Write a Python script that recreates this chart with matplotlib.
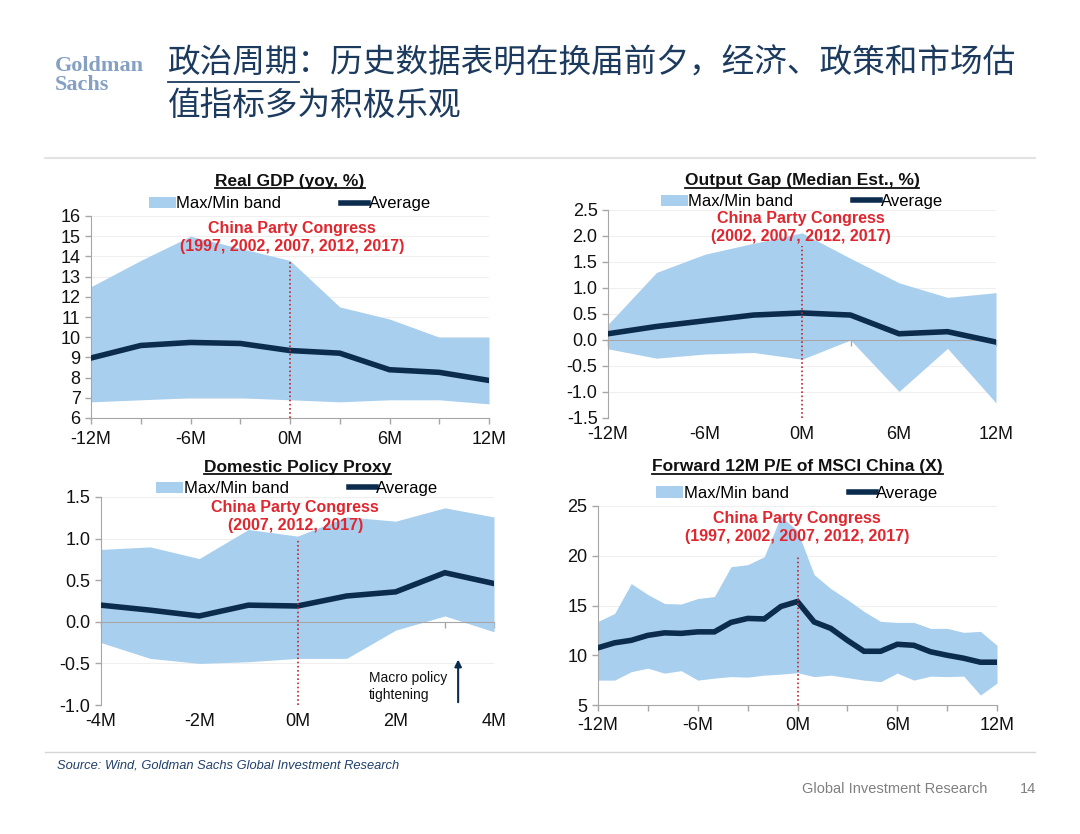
import numpy as np
import matplotlib as mpl
mpl.use('Agg')
import matplotlib.pyplot as plt
from matplotlib.patches import Patch
from matplotlib.lines import Line2D

plt.rcParams['font.family'] = ['Liberation Sans', 'DejaVu Sans']

# ---- values ----
gdp_months = [-12, -9, -6, -3, 0, 3, 6, 9, 12]
gdp_max = [12.5, 13.8, 15.0, 14.4, 13.8, 11.5, 10.9, 10.0, 10.0]
gdp_min = [6.8, 6.9, 7.0, 7.0, 6.9, 6.8, 6.9, 6.9, 6.7]
gdp_avg = [8.97, 9.59, 9.74, 9.69, 9.34, 9.21, 8.39, 8.26, 7.86]

gap_months = [-12, -9, -6, -3, 0, 3, 6, 9, 12]
gap_max = [0.30, 1.30, 1.65, 1.86, 2.06, 1.57, 1.10, 0.82, 0.91]
gap_min = [-0.17, -0.35, -0.27, -0.24, -0.37, 0.0, -0.99, -0.16, -1.21]
gap_avg = [0.12, 0.26, 0.37, 0.48, 0.52, 0.48, 0.12, 0.16, -0.04]

policy_months = [-4, -3, -2, -1, 0, 1, 2, 3, 4]
policy_max = [0.87, 0.90, 0.76, 1.11, 1.03, 1.26, 1.21, 1.37, 1.26]
policy_min = [-0.25, -0.44, -0.50, -0.48, -0.44, -0.44, -0.10, 0.07, -0.12]
policy_avg = [0.20, 0.14, 0.07, 0.20, 0.19, 0.31, 0.36, 0.59, 0.46]

pe_months = list(range(-12, 13))
pe_max = [13.4, 14.2, 17.2, 16.1, 15.2, 15.15, 15.7, 15.9, 18.9, 19.1, 19.9, 24.0,
          22.5, 18.1, 16.7, 15.6, 14.4, 13.4, 13.3, 13.3, 12.7, 12.7, 12.3, 12.4, 11.0]
pe_min = [7.5, 7.5, 8.35, 8.7, 8.2, 8.45, 7.5, 7.7, 7.85, 7.8, 8.0, 8.1,
          8.25, 7.85, 8.0, 7.75, 7.5, 7.35, 8.2, 7.5, 7.9, 7.85, 7.9, 6.0, 7.2]
pe_avg = [10.75, 11.25, 11.5, 12.0, 12.25, 12.2, 12.35, 12.35, 13.3, 13.7, 13.65, 14.9,
          15.4, 13.35, 12.7, 11.5, 10.4, 10.4, 11.1, 11.0, 10.35, 10.0, 9.7, 9.3, 9.3]

titles = ['Real GDP (yoy, %)', 'Output Gap (Median Est., %)',
          'Domestic Policy Proxy', 'Forward 12M P/E of MSCI China (X)']
congress_years = ['(1997, 2002, 2007, 2012, 2017)', '(2002, 2007, 2012, 2017)',
                  '(2007, 2012, 2017)', '(1997, 2002, 2007, 2012, 2017)']
congress_top = [13.8, 1.8, 1.0, 20.0]

head_line1 = '政治周期：历史数据表明在换届前夕，经济、政策和市场估'
head_line2 = '值指标多为积极乐观'
head_key_len = 4  # '政治周期' is underlined

band_c = '#a9cfee'
navy = '#0c2c4e'
red = '#e0262e'
axis_c = '#a6a6a6'

fig = plt.figure(figsize=(10.8, 8.34), dpi=100)

W, H = 1080.0, 834.0
def box(x0, y0, x1, y1):
    return [x0 / W, 1 - y1 / H, (x1 - x0) / W, (y1 - y0) / H]

panels = [
    dict(rect=box(91, 216, 489, 418), x=gdp_months, lo=gdp_min, hi=gdp_max, avg=gdp_avg,
         xlim=(-12, 12), ylim=(6, 16), yticks=np.arange(6, 17, 1), yfmt='{:.0f}',
         xticks=range(-12, 13, 3), lab_every=6, zero=False,
         title_y=1.173, leg_y=1.06, note=(0.505, 0.896)),
    dict(rect=box(608, 210, 996, 418), x=gap_months, lo=gap_min, hi=gap_max, avg=gap_avg,
         xlim=(-12, 12), ylim=(-1.5, 2.5), yticks=np.arange(-1.5, 2.51, 0.5), yfmt='{:.1f}',
         xticks=range(-12, 13, 3), lab_every=6, zero=True,
         title_y=1.14, leg_y=1.04, note=(0.497, 0.918)),
    dict(rect=box(101, 497, 494, 705), x=policy_months, lo=policy_min, hi=policy_max, avg=policy_avg,
         xlim=(-4, 4), ylim=(-1.0, 1.5), yticks=np.arange(-1.0, 1.51, 0.5), yfmt='{:.1f}',
         xticks=range(-4, 5, 1), lab_every=2, zero=True,
         title_y=1.144, leg_y=1.04, note=(0.494, 0.904)),
    dict(rect=box(598, 506, 997, 705), x=pe_months, lo=pe_min, hi=pe_max, avg=pe_avg,
         xlim=(-12, 12), ylim=(5, 25), yticks=np.arange(5, 26, 5), yfmt='{:.0f}',
         xticks=range(-12, 13, 3), lab_every=6, zero=False,
         title_y=1.196, leg_y=1.065, note=(0.499, 0.892)),
]

title_texts = []
axes = []
for i, p in enumerate(panels):
    ax = fig.add_axes(p['rect'])
    axes.append(ax)
    ax.fill_between(p['x'], p['lo'], p['hi'], color=band_c, lw=0, zorder=2)
    ax.plot(p['x'], p['avg'], color=navy, lw=4, solid_joinstyle='miter', zorder=4)
    ax.plot([0, 0], [p['ylim'][0], congress_top[i]], color='#c0282e', lw=1.2,
            ls=(0, (1, 1.5)), zorder=5)
    ax.set_xlim(*p['xlim'])
    ax.set_ylim(*p['ylim'])
    ax.set_yticks(p['yticks'])
    ax.set_yticklabels([p['yfmt'].format(v) for v in p['yticks']])
    ax.grid(axis='y', color='#efefef', lw=0.8, zorder=0)
    ax.set_axisbelow(True)
    for s in ['top', 'right']:
        ax.spines[s].set_visible(False)
    ax.spines['left'].set_color(axis_c)
    ax.spines['bottom'].set_color(axis_c)
    ax.tick_params(axis='y', colors=axis_c, labelcolor='#111111', labelsize=13,
                   length=4, width=1)
    xt = list(p['xticks'])
    labels = ['{}M'.format(v) if v % p['lab_every'] == 0 else '' for v in xt]
    if p['zero']:
        ax.spines['bottom'].set_position(('data', 0))
        ax.set_xticks(xt)
        ax.tick_params(axis='x', colors=axis_c, length=4, width=1, labelbottom=False)
        sec = ax.secondary_xaxis('bottom')
        sec.spines['bottom'].set_visible(False)
        sec.set_xticks(xt)
        sec.set_xticklabels(labels)
        sec.tick_params(axis='x', length=0, labelsize=13, labelcolor='#111111', pad=6)
    else:
        ax.set_xticks(xt)
        ax.set_xticklabels(labels)
        ax.tick_params(axis='x', colors=axis_c, labelcolor='#111111', labelsize=13,
                       length=4, width=1, pad=5)

    t = ax.text(0.5, p['title_y'], titles[i], transform=ax.transAxes, ha='center',
                va='center', fontsize=12.5, fontweight='bold', color='#111111')
    title_texts.append(t)

    handles = [Patch(facecolor=band_c, edgecolor='none'),
               Line2D([], [], color=navy, lw=4)]
    ax.legend(handles, ['Max/Min band', 'Average'], loc='center',
              bbox_to_anchor=(0.5, p['leg_y']), ncol=2, frameon=False, fontsize=12,
              handlelength=1.6, handletextpad=0.05, columnspacing=3.6,
              borderaxespad=0, borderpad=0)

    ax.text(p['note'][0], p['note'][1], 'China Party Congress\n' + congress_years[i],
            transform=ax.transAxes, ha='center', va='center', fontsize=11.5,
            fontweight='bold', color=red, linespacing=1.25, zorder=6)

# policy tightening arrow on the domestic policy panel
ax3 = axes[2]
ax3.annotate('', xy=(3.27, -0.42), xytext=(3.27, -1.0),
             arrowprops=dict(arrowstyle='-|>', color=navy, lw=1.5, mutation_scale=10),
             annotation_clip=False)
ax3.text(1.45, -0.78, 'Macro policy\ntightening', fontsize=10, color='#111111',
         va='center', ha='left', linespacing=1.3)

# header
fig.text(55 / W, 1 - 66 / H, 'Goldman', family='Liberation Serif', fontweight='bold',
         fontsize=16, color='#86a0c4', va='center', ha='left')
fig.text(55 / W, 1 - 85 / H, 'Sachs', family='Liberation Serif', fontweight='bold',
         fontsize=16, color='#86a0c4', va='center', ha='left')

cjk = ['Noto Sans CJK SC', 'DejaVu Sans']
head1 = fig.text(168 / W, 1 - 64 / H, head_line1, family=cjk, fontsize=23.5,
                 fontweight='light', color='#1c3a5e', va='center', ha='left')
fig.text(168 / W, 1 - 106 / H, head_line2, family=cjk, fontsize=23.5,
         fontweight='light', color='#1c3a5e', va='center', ha='left')

fig.add_artist(Line2D([45 / W, 1035 / W], [1 - 158 / H, 1 - 158 / H], color='#e3e3e3',
                      lw=1.5, transform=fig.transFigure))
fig.add_artist(Line2D([45 / W, 1035 / W], [1 - 752 / H, 1 - 752 / H], color='#d6d6d6',
                      lw=1.0, transform=fig.transFigure))

fig.text(57 / W, 1 - 765 / H, 'Source: Wind, Goldman Sachs Global Investment Research',
         fontsize=9.3, style='italic', color='#1f3f6a', va='center', ha='left')
fig.text(987 / W, 1 - 789 / H, 'Global Investment Research', fontsize=10.5,
         color='#808080', va='center', ha='right')
fig.text(1036 / W, 1 - 789 / H, '14', fontsize=10.5, color='#808080', va='center', ha='right')

# underline the panel titles and the key phrase of the header
fig.canvas.draw()
r = fig.canvas.get_renderer()
inv = fig.transFigure.inverted()
for t in title_texts:
    bb = t.get_window_extent(r).transformed(inv)
    fig.add_artist(Line2D([bb.x0, bb.x1], [bb.y0 + 0.5 / H, bb.y0 + 0.5 / H], color='#111111',
                          lw=1.3, transform=fig.transFigure))
bb = head1.get_window_extent(r).transformed(inv)
key_x1 = bb.x0 + (bb.x1 - bb.x0) * head_key_len / len(head_line1)
fig.add_artist(Line2D([bb.x0, key_x1], [1 - 82 / H, 1 - 82 / H], color='#1c3a5e',
                      lw=1.3, transform=fig.transFigure))

fig.savefig('out.png', dpi=100, facecolor='white')
